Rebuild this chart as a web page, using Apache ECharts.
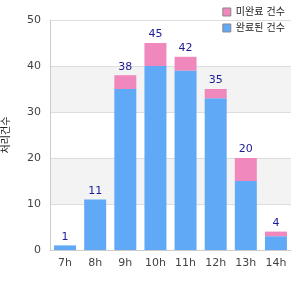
<!DOCTYPE html>
<html>
<head>
<meta charset="utf-8">
<script src="https://cdn.jsdelivr.net/npm/echarts@6/dist/echarts.min.js"></script>
<style>
  html, body { margin: 0; padding: 0; background: #fff; }
  #chart { width: 300px; height: 300px; }
</style>
</head>
<body>
<div id="chart"></div>
<script>
let hours = ['7h', '8h', '9h', '10h', '11h', '12h', '13h', '14h'];
let doneCounts = [1, 11, 35, 40, 39, 33, 15, 3];
let pendingCounts = [0, 0, 3, 5, 3, 2, 5, 1];
let doneName = '완료된 건수';
let pendingName = '미완료 건수';
let yName = '처리건수';

let totals = hours.map((h, i) => doneCounts[i] + pendingCounts[i]);

let chart = echarts.init(document.getElementById('chart'));

let option = {
    animation: false,
    textStyle: { fontFamily: 'DejaVu Sans, "Noto Sans CJK KR", sans-serif' },
    grid: { left: 50, right: 9, top: 20, bottom: 50, outerBoundsMode: 'none' },
    legend: {
        orient: 'vertical',
        right: 10,
        top: 2,
        itemWidth: 8,
        itemHeight: 8,
        itemGap: 6,
        icon: 'rect',
        textStyle: { fontSize: 10, color: '#222' },
        data: [
            { name: pendingName, itemStyle: { borderColor: '#888', borderWidth: 1 } },
            { name: doneName, itemStyle: { borderColor: '#888', borderWidth: 1 } }
        ]
    },
    xAxis: {
        type: 'category',
        data: hours,
        axisLine: { lineStyle: { color: '#ccc' } },
        axisTick: { show: false },
        axisLabel: { fontSize: 11, color: '#444', margin: 8 }
    },
    yAxis: {
        type: 'value',
        min: 0,
        max: 50,
        interval: 10,
        name: yName,
        nameLocation: 'middle',
        nameGap: 39,
        nameTextStyle: { fontSize: 10, color: '#222' },
        axisLine: { show: true, lineStyle: { color: '#ccc' } },
        axisTick: { show: false },
        axisLabel: { fontSize: 11, color: '#444', margin: 9 },
        splitLine: { lineStyle: { color: '#ddd' } },
        splitArea: { show: true, areaStyle: { color: ['#fff', '#f3f3f3'] } }
    },
    series: [
        {
            name: doneName,
            type: 'bar',
            stack: 'total',
            barWidth: 22,
            itemStyle: { color: '#60a9f6' },
            data: doneCounts
        },
        {
            name: pendingName,
            type: 'bar',
            stack: 'total',
            barWidth: 22,
            itemStyle: { color: '#f088be' },
            label: {
                show: true,
                position: 'top',
                distance: 3,
                fontSize: 11,
                color: '#1c1c99',
                formatter: p => totals[p.dataIndex]
            },
            data: pendingCounts
        }
    ]
};

chart.setOption(option);
</script>
</body>
</html>
